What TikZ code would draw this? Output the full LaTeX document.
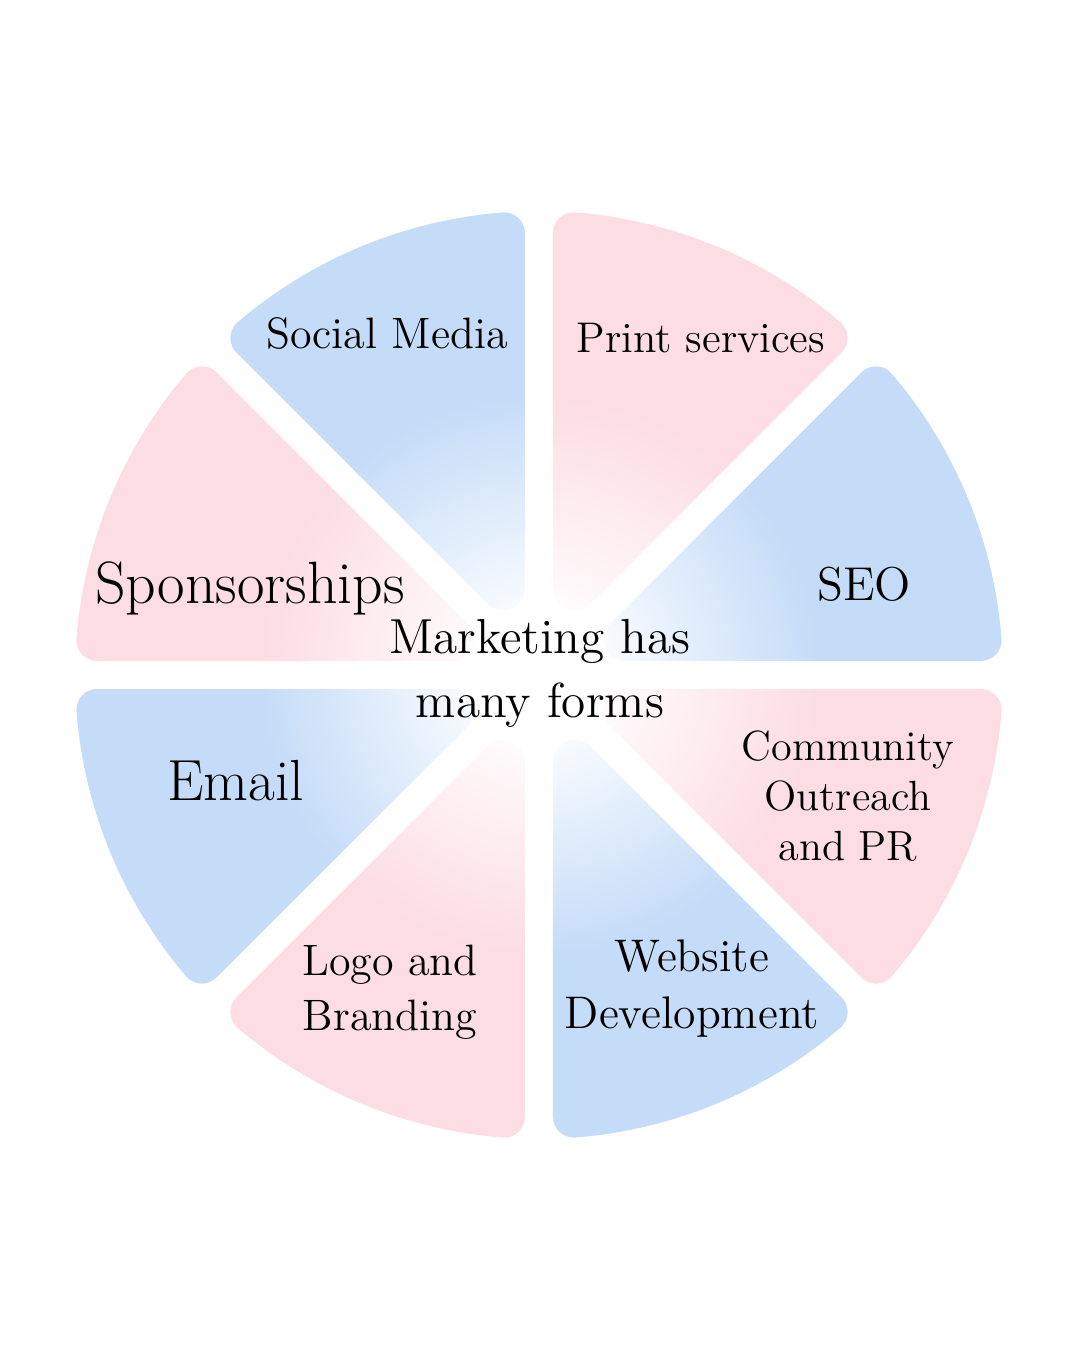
\documentclass[tikz,border=0pt]{standalone}
\usepackage{tikz}
\usetikzlibrary{calc}

\definecolor{wedgeblue}{RGB}{197,220,248}
\definecolor{wedgepink}{RGB}{252,221,228}

\pgfdeclareradialshading{blueglow}{\pgfpoint{0bp}{0bp}}{color(0bp)=(white); color(2.5bp)=(white); color(8bp)=(wedgeblue!45); color(15bp)=(wedgeblue); color(50bp)=(wedgeblue)}
\pgfdeclareradialshading{pinkglow}{\pgfpoint{0bp}{0bp}}{color(0bp)=(white); color(2.5bp)=(white); color(8bp)=(wedgepink!45); color(15bp)=(wedgepink); color(50bp)=(wedgepink)}

\tikzset{
    formtext/.style={font=\fontsize{12.5}{15.5}\selectfont, align=center, anchor=base, inner sep=0pt},
    bigtext/.style={formtext, font=\fontsize{17}{19}\selectfont},
    hubtext/.style={formtext, font=\fontsize{14}{18.2}\selectfont},
}

\begin{document}
\begin{tikzpicture}[x=0.01cm, y=0.01cm]
    \useasboundingbox (-539,-675) rectangle (541,675);

    % eight wedges, gap of 28 between neighbours, corners rounded by hand
    \foreach \a/\glow in {0/blueglow, 45/pinkglow, 90/blueglow, 135/pinkglow, 180/blueglow, 225/pinkglow, 270/blueglow, 315/pinkglow}{
        \coordinate (tip) at (\a+22.5:36.6);
        \coordinate (pa) at (\a+1.73:464);
        \coordinate (pb) at (\a+43.27:464);
        \coordinate (aa) at ($(pa)!0.22cm!(tip)$);
        \coordinate (ab) at ($(pb)!0.22cm!(tip)$);
        \coordinate (ca) at ($(pa)!0.10cm!(tip)$);
        \coordinate (cb) at ($(pb)!0.10cm!(tip)$);
        \coordinate (ta) at ($(tip)!0.53cm!(pa)$);
        \coordinate (tb) at ($(tip)!0.53cm!(pb)$);
        \coordinate (sa) at ($(tip)!0.334cm!(pa)$);
        \coordinate (sb) at ($(tip)!0.334cm!(pb)$);
        \path[path picture={\shade[shading=\glow] (0,0) circle (464);}]
            (ta) -- (aa) .. controls (ca) and (\a+2.96:464) .. (\a+4.45:464)
            arc[start angle=\a+4.45, end angle=\a+40.55, radius=464]
            .. controls (\a+42.04:464) and (cb) .. (ab) -- (tb)
            .. controls (sb) and (sa) .. (ta) -- cycle;
    }

    \node[formtext] (social) at (-152,327) {Social Media};
    \node[formtext, font=\fontsize{12.2}{15}\selectfont] (print) at (162,323) {Print services};
    \node[formtext, font=\fontsize{13.5}{16}\selectfont] (seo) at (325,75) {SEO};
    \node[bigtext] (sponsor) at (-289,72) {Sponsorships};
    \node[bigtext, font=\fontsize{16.5}{19}\selectfont] (email) at (-303,-125) {Email};
    \node[formtext, font=\fontsize{12}{14.2}\selectfont] (outreach) at (309,-185) {Community\\Outreach\\and PR};
    \node[formtext, font=\fontsize{13}{16}\selectfont] (website) at (153,-353) {Website\\Development};
    \node[formtext, font=\fontsize{12.5}{15.6}\selectfont] (logo) at (-149,-355) {Logo and\\Branding};
    \node[hubtext] (hub) at (1,-42) {Marketing has\\many forms};
\end{tikzpicture}
\end{document}
